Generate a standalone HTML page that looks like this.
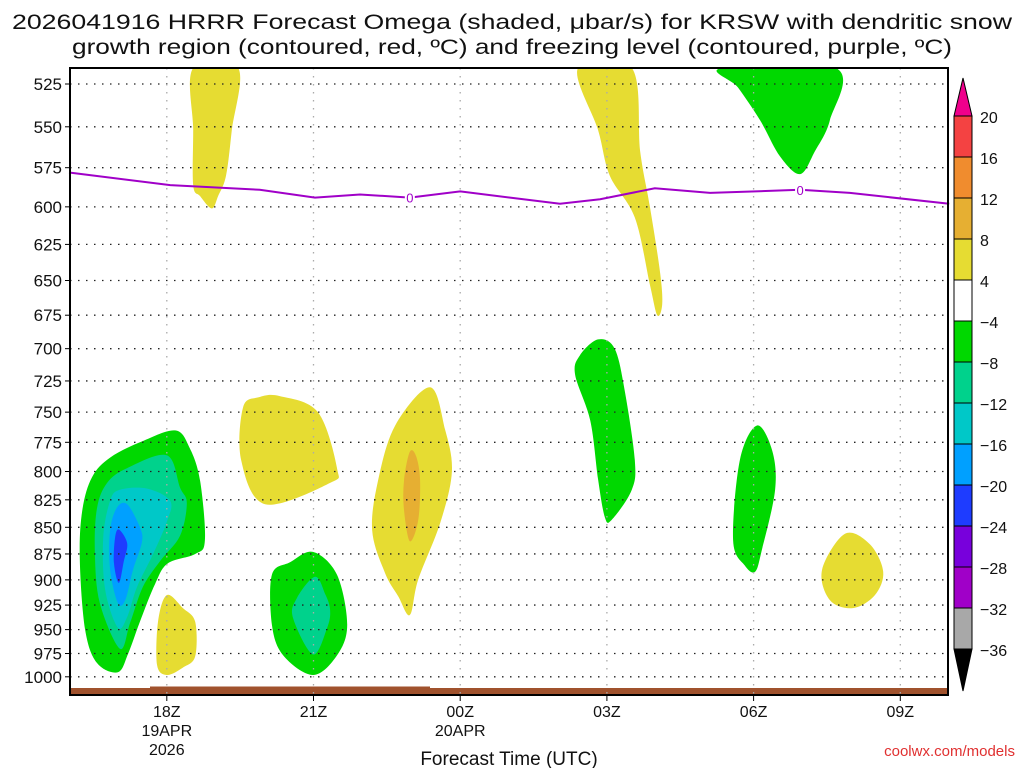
<!DOCTYPE html>
<html><head><meta charset="utf-8"><style>
html,body{margin:0;padding:0;background:#fff;}
svg{display:block;}
text{font-family:"Liberation Sans","DejaVu Sans",sans-serif;fill:#111;}
</style></head><body>
<svg id="chart" width="1024" height="768" viewBox="0 0 1024 768" xmlns="http://www.w3.org/2000/svg">
<text x="512" y="29" font-size="21" text-anchor="middle" textLength="1000" lengthAdjust="spacingAndGlyphs">2026041916 HRRR Forecast Omega (shaded, μbar/s) for KRSW with dendritic snow</text>
<text x="512" y="54" font-size="21" text-anchor="middle" textLength="880" lengthAdjust="spacingAndGlyphs">growth region (contoured, red, ºC) and freezing level (contoured, purple, ºC)</text>
<g id="fills"></g>
<g id="grid"></g>
<g id="lines"></g>
<rect x="70" y="68" width="878" height="627" fill="none" stroke="#000" stroke-width="2"/>
<g id="axes"></g>
<g id="cbar"></g>
<text x="509" y="765" font-size="19" text-anchor="middle">Forecast Time (UTC)</text>
<text x="1015" y="756" font-size="15" text-anchor="end" fill="#e03030" style="fill:#e03030">coolwx.com/models</text>
</svg>
<script>
// ---- data ----
const pressureTicks = [525,550,575,600,625,650,675,700,725,750,775,800,825,850,875,900,925,950,975,1000];
const timeTickHours = [2,5,8,11,14,17];
const timeTickLabels = ["18Z","21Z","00Z","03Z","06Z","09Z"];
const dateLabels = [[2,"19APR"],[2,"2026"],[8,"20APR"]];
const cbarLevels = [20,16,12,8,4,-4,-8,-12,-16,-20,-24,-28,-32,-36];
const cbarColors = ["#f44242","#f08c2e","#e6af32","#e6dc32","#ffffff","#00d800","#00d28c","#00c8c8","#00a0ff","#1e3cff","#7800dc","#a000c8","#a8a8a8"];
const freezeHours = [0,2.07,3.9,5.03,5.95,6.97,8.0,9.02,10.04,10.86,11.98,13.11,14.95,15.97,18];
const freezePress = [578,586,589,594,592,594,590,594,598,595,588,591,589,591,598];
const freezeLabelHours = [6.97,14.95];
const shadeGreen1 = [[1.0,995],[0.57,985],[0.33,950],[0.22,880],[0.27,835],[0.47,805],[0.84,788],[1.45,775],[2.17,765],[2.47,780],[2.68,808],[2.78,862],[2.58,875],[2.02,884],[1.76,904],[1.45,942],[1.21,975]];
const shadeTeal1 = [[1.04,970],[0.63,923],[0.53,875],[0.57,833],[0.78,810],[1.19,797],[2.0,786],[2.27,814],[2.41,828],[2.27,858],[1.86,882],[1.51,907],[1.25,943]];
const shadeCyan1 = [[1.0,948],[0.74,910],[0.7,860],[0.84,826],[1.04,816],[1.6,815],[2.07,826],[2.0,845],[1.72,875],[1.39,907],[1.19,937]];
const shadeBlue1 = [[1.0,923],[0.84,890],[0.84,853],[0.98,832],[1.19,829],[1.45,850],[1.49,864],[1.31,890],[1.15,920]];
const shadeDkBlue1 = [[1.02,903],[0.92,884],[0.94,860],[1.02,852],[1.19,865],[1.12,882]];
const shadeYellow1 = [[2.0,915],[1.82,942],[1.8,987],[2.0,998],[2.33,990],[2.58,978],[2.58,942],[2.33,928]];
const shadeGreen2 = [[4.15,895],[4.15,945],[4.38,977],[4.99,998],[5.48,977],[5.69,945],[5.48,895],[4.99,873],[4.52,883]];
const shadeTeal2 = [[5.03,897],[4.66,918],[4.58,938],[4.99,976],[5.28,948],[5.34,930],[5.24,914]];
const shadeYellow2 = [[3.88,738],[3.56,746],[3.52,790],[4.01,829],[5.34,810],[5.48,797],[5.09,750],[4.31,737]];
const shadeYellow3 = [[7.38,730],[6.67,761],[6.32,808],[6.2,853],[6.46,893],[6.73,916],[6.97,935],[7.14,900],[7.59,846],[7.83,800],[7.69,764]];
const shadeOrange3 = [[6.97,783],[6.85,808],[6.85,834],[6.97,863],[7.14,844],[7.18,808],[7.1,787]];
const shadeYellow4 = [[2.54,505],[3.46,505],[3.33,552],[3.21,580],[3.05,593],[2.92,601],[2.68,593],[2.54,586],[2.54,552]];
const shadeYellow5 = [[10.41,505],[11.51,505],[11.68,565],[11.88,600],[12.09,645],[12.13,667],[12.03,675],[11.88,653],[11.57,607],[11.06,580],[10.82,552]];
const shadeGreen6 = [[13.35,505],[15.68,505],[15.56,546],[15.25,565],[14.95,579],[14.54,568],[14.13,546],[13.68,527]];
const shadeGreen7 = [[10.82,693],[10.45,705],[10.35,720],[10.66,757],[10.82,807],[10.96,841],[11.1,843],[11.51,816],[11.57,790],[11.37,734],[11.16,700]];
const shadeGreen8 = [[14.07,761],[13.72,790],[13.58,862],[13.82,886],[14.03,892],[14.17,871],[14.44,816],[14.38,782]];
const shadeYellow9 = [[15.87,856],[15.4,890],[15.56,920],[16.03,928],[16.48,915],[16.65,892],[16.38,866]];

const NS="http://www.w3.org/2000/svg";
const X0=69, XPH=48.9, PL=70, PR=948, PT=68, PB=695;
function xs(h){return X0+h*XPH;}
function ys(p){return 84+920*Math.log(p/525);}
function mk(tag,attrs,parent){const e=document.createElementNS(NS,tag);for(const k in attrs)e.setAttribute(k,attrs[k]);parent.appendChild(e);return e;}
function smoothPath(pts){
  const P=pts.map(d=>[xs(d[0]),Math.max(PT,ys(d[1]))]);const n=P.length;let s="M"+P[0][0].toFixed(1)+","+P[0][1].toFixed(1);
  for(let i=0;i<n;i++){const p0=P[(i-1+n)%n],p1=P[i],p2=P[(i+1)%n],p3=P[(i+2)%n];
    const c1=[p1[0]+(p2[0]-p0[0])/6,p1[1]+(p2[1]-p0[1])/6],c2=[p2[0]-(p3[0]-p1[0])/6,p2[1]-(p3[1]-p1[1])/6];
    s+=" C"+c1[0].toFixed(1)+","+c1[1].toFixed(1)+" "+c2[0].toFixed(1)+","+c2[1].toFixed(1)+" "+p2[0].toFixed(1)+","+p2[1].toFixed(1);}
  return s+"Z";}
const fills=document.getElementById('fills');
const clip=mk('clipPath',{id:'pc'},mk('defs',{},document.getElementById('chart')));
mk('rect',{x:PL,y:PT,width:PR-PL,height:PB-PT},clip);
fills.setAttribute('clip-path','url(#pc)');
const shapes=[[shadeGreen1,5],[shadeTeal1,6],[shadeCyan1,7],[shadeBlue1,8],[shadeDkBlue1,9],[shadeYellow1,3],[shadeGreen2,5],[shadeTeal2,6],[shadeYellow2,3],[shadeYellow3,3],[shadeOrange3,2],[shadeYellow4,3],[shadeYellow5,3],[shadeGreen6,5],[shadeGreen7,5],[shadeGreen8,5],[shadeYellow9,3]];
shapes.forEach(s=>{const e=mk('path',{d:smoothPath(s[0]),fill:cbarColors[s[1]]},fills);

});
const t1=mk('rect',{x:PL,y:688,width:PR-PL,height:7,fill:"#a0522d"},fills);


mk('rect',{x:150,y:686.5,width:280,height:3,fill:"#a0522d"},fills);
const grid=document.getElementById('grid'), axes=document.getElementById('axes');
pressureTicks.forEach(p=>{const y=ys(p);
 mk('line',{x1:PL,x2:PR,y1:y,y2:y,stroke:"#222","stroke-width":1.3,"stroke-dasharray":"1.5 6.5"},grid);
 mk('line',{x1:PL-5,x2:PL,y1:y,y2:y,stroke:"#000","stroke-width":1},axes);
 const t=mk('text',{x:PL-8,y:y+6,"font-size":17,"text-anchor":"end"},axes);t.textContent=p;
 
 });
timeTickHours.forEach((h,i)=>{const x=xs(h);
 mk('line',{x1:x,x2:x,y1:PT,y2:PB,stroke:"#aaa","stroke-width":1.3,"stroke-dasharray":"1.5 6.5"},grid);
 mk('line',{x1:x,x2:x,y1:PB,y2:PB+6,stroke:"#000","stroke-width":1},axes);
 const t=mk('text',{x:x,y:717,"font-size":16,"text-anchor":"middle"},axes);t.textContent=timeTickLabels[i];
 
 });
dateLabels.forEach((d,i)=>{const t=mk('text',{x:xs(d[0]),y:i==1?755:736,"font-size":16,"text-anchor":"middle"},axes);t.textContent=d[1];
 
 });
const lines=document.getElementById('lines');
const pl=mk('polyline',{points:freezeHours.map((h,i)=>xs(h).toFixed(1)+","+ys(freezePress[i]).toFixed(1)).join(" "),fill:"none",stroke:"#a000c8","stroke-width":2},lines);


freezeLabelHours.forEach(h=>{let i=0;while(i<freezeHours.length-2&&freezeHours[i+1]<h)i++;
 const f=(h-freezeHours[i])/(freezeHours[i+1]-freezeHours[i]);const p=freezePress[i]+f*(freezePress[i+1]-freezePress[i]);
 mk('rect',{x:xs(h)-5,y:ys(p)-7,width:10,height:13,fill:"#fff"},lines);
 const t=mk('text',{x:xs(h),y:ys(p)+5,"font-size":13,"text-anchor":"middle",style:"fill:#a000c8"},lines);t.textContent="0";
 
 });
const cb=document.getElementById('cbar');const CX=954,CW=18,CT=116,CH=41;
mk('polygon',{points:`${CX},${CT} ${CX+CW},${CT} ${CX+CW/2},${CT-38}`,fill:"#f0008c",stroke:"#000"},cb);
cbarColors.forEach((c,i)=>{const r=mk('rect',{x:CX,y:CT+i*CH,width:CW,height:CH,fill:c,stroke:"#000","stroke-width":1},cb);
 
 });
const cbBot=CT+cbarColors.length*CH;
mk('polygon',{points:`${CX},${cbBot} ${CX+CW},${cbBot} ${CX+CW/2},${cbBot+42}`,fill:"#000",stroke:"#000"},cb);
cbarLevels.forEach((v,i)=>{const t=mk('text',{x:980,y:CT+i*CH+7,"font-size":16},cb);t.textContent=v<0?"−"+(-v):String(v);
 
 });
</script>
</body></html>
